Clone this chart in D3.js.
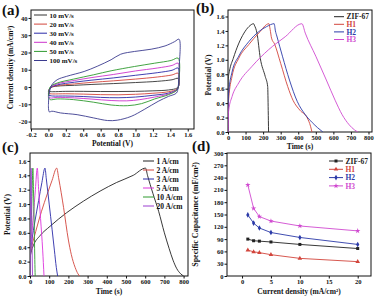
<!DOCTYPE html>
<html><head><meta charset="utf-8">
<script src="https://cdn.jsdelivr.net/npm/d3@7"></script>
<style>
body{margin:0;background:#fff}
svg text{font-family:"Liberation Serif","Times New Roman",serif;font-weight:bold;fill:#111}
</style></head><body>
<svg id="chart" width="376" height="296"></svg>
<script>
// ---------- (a) CV data [potential V, current mA/cm2] ----------
const cvLabels = ["10 mV/s","20 mV/s","30 mV/s","40 mV/s","50 mV/s","100 mV/s"];
const cvColors = ["#333333","#d2453c","#2a2aa8","#cc33cc","#2e9a2e","#3b3b8f"];
const cv10 = [[0,-2.5],[0.03,-0.3],[0.1,0.5],[0.3,1],[0.5,1.5],[0.75,2],[1.0,2.6],[1.25,3.3],[1.42,4.2],[1.49,5],[1.5,1.5],[1.48,-0.5],[1.38,-1.7],[1.2,-2.2],[1.0,-2.5],[0.8,-2.6],[0.6,-2.6],[0.4,-2.5],[0.2,-2.5],[0.05,-2.7],[0,-2.6]];
const cv20 = [[0,-3.5],[0.02,-0.5],[0.1,0.8],[0.3,1.8],[0.5,2.7],[0.75,3.6],[1.0,4.6],[1.25,5.8],[1.42,7],[1.49,8],[1.5,2.5],[1.48,-1],[1.38,-2.7],[1.2,-3.6],[1.0,-4.2],[0.8,-4.5],[0.6,-4.4],[0.4,-4.1],[0.2,-3.9],[0.05,-4],[0,-3.8]];
const cv30 = [[0,-4],[0.02,-0.5],[0.1,1.2],[0.3,2.8],[0.5,4],[0.75,5.3],[1.0,6.8],[1.25,8.3],[1.42,9.7],[1.49,11],[1.5,3],[1.48,-1.2],[1.38,-3.5],[1.2,-4.8],[1.0,-5.8],[0.8,-6.2],[0.6,-6],[0.4,-5.5],[0.2,-5.2],[0.05,-5.2],[0,-4.8]];
const cv40 = [[0,-4.5],[0.02,-0.5],[0.1,1.8],[0.3,3.8],[0.5,5.5],[0.75,7.3],[1.0,9.3],[1.25,11],[1.42,12.5],[1.49,13.8],[1.5,3.5],[1.48,-1.5],[1.38,-4],[1.22,-5.8],[1.05,-7.3],[0.9,-8],[0.72,-7.8],[0.5,-7],[0.3,-6.3],[0.1,-6],[0.02,-6.3],[0,-5.5]];
const cv50 = [[0,-5.4],[0.02,0],[0.1,2.3],[0.29,4.6],[0.52,7.1],[0.72,9.4],[0.99,11.9],[1.22,13.8],[1.41,15.4],[1.49,16.7],[1.5,4.2],[1.48,-1.5],[1.38,-4.4],[1.22,-6.9],[1.07,-9.6],[0.91,-10.8],[0.72,-10.4],[0.52,-8.8],[0.29,-7.3],[0.1,-6.9],[0.02,-7.3],[0,-6]];
const cv100 = [[0,-11],[0.01,-3.5],[0.04,1.3],[0.1,4.2],[0.21,6.2],[0.41,9],[0.56,12],[0.72,15.8],[0.83,19],[0.99,20.6],[1.18,21.9],[1.34,23.8],[1.45,26.3],[1.5,27.7],[1.5,10],[1.49,0],[1.47,-3.5],[1.38,-5.4],[1.26,-8.3],[1.1,-13],[0.95,-17],[0.79,-19.2],[0.68,-19.4],[0.52,-17.9],[0.33,-16],[0.14,-15],[0.04,-14],[0.01,-14.4],[0,-11]];
const cvSeries = [cv10,cv20,cv30,cv40,cv50,cv100];
const aXTicks = [-0.2,0,0.2,0.4,0.6,0.8,1.0,1.2,1.4,1.6];
const aYTicks = [-20,-10,0,10,20,30,40];

// ---------- (b) GCD of samples [time s, potential V] ----------
const bLabels = ["ZIF-67","H1","H2","H3"];
const bColors = ["#222222","#d2453c","#2b3aa8","#d04ad0"];
const gZIF = [[0,0],[0.5,0.72],[8,0.84],[30,1.02],[60,1.22],[91,1.37],[119,1.46],[146,1.5],[150,1.48],[165,1.37],[184,1.02],[212,0.77],[226,0.63],[229,0.3],[231,0]];
const gH1 = [[0,0],[1,0.3],[4,0.46],[23,0.77],[61,1.02],[118,1.21],[175,1.37],[233,1.5],[240,1.42],[248,1.3],[265,1.22],[300,0.95],[340,0.63],[370,0.44],[410,0.3],[450,0.2],[470,0.08],[478,0]];
const gH2 = [[0,0],[1,0.35],[4,0.55],[23,0.83],[61,1.05],[118,1.25],[175,1.39],[220,1.46],[263,1.5],[270,1.4],[278,1.33],[310,1.05],[350,0.72],[395,0.42],[440,0.24],[480,0.13],[510,0.06],[540,0]];
const gH3 = [[0,0],[1,0.2],[4,0.3],[23,0.49],[61,0.68],[137,0.91],[231,1.14],[326,1.32],[421,1.5],[440,1.37],[500,1.05],[560,0.72],[610,0.44],[650,0.24],[690,0.1],[720,0.03],[740,0]];
const bSeries = [gZIF,gH1,gH2,gH3];
const timeTicks = [0,100,200,300,400,500,600,700,800];
const potTicks = [0,0.2,0.4,0.6,0.8,1.0,1.2,1.4,1.6];

// ---------- (c) GCD at current densities ----------
const cLabels = ["1 A/cm","2 A/cm","3 A/cm","5 A/cm","10 A/cm","20 A/cm"];
const cColors = ["#222222","#d2453c","#2a2aa8","#dd33dd","#2e9a2e","#9b3fd0"];
const c1 = [[0,0],[1,0.25],[5,0.32],[17,0.42],[52,0.56],[104,0.69],[191,0.88],[278,1.04],[365,1.18],[451,1.3],[538,1.4],[602,1.5],[612,1.4],[640,1.15],[670,0.9],[700,0.6],[725,0.38],[745,0.22],[765,0.1],[785,0.03],[800,0]];
const c2 = [[0,0],[1,0.3],[10,0.42],[30,0.62],[60,0.9],[90,1.14],[115,1.33],[139,1.5],[150,1.35],[175,0.95],[200,0.5],[215,0.3],[235,0.12],[250,0.03],[258,0]];
const c3 = [[0,0],[1,0.3],[10,0.5],[25,0.75],[45,1.05],[62,1.3],[78,1.5],[85,1.35],[100,1.0],[115,0.65],[127,0.36],[137,0.12],[144,0]];
const c5 = [[0,0],[1,0.3],[8,0.55],[18,0.85],[28,1.2],[38,1.5],[45,1.2],[55,0.8],[66,0.36],[73,0]];
const c10 = [[0,0],[1,0.35],[5,0.65],[10,1.05],[15,1.5],[18,1.2],[22,0.7],[26,0.1],[27,0]];
const c20 = [[0,0],[1,0.5],[3,0.95],[6,1.5],[8,1.0],[11,0.4],[13,0]];
const cSeries = [c1,c2,c3,c5,c10,c20];

// ---------- (d) specific capacitance ----------
const dCurrent = [1,2,3,5,10,20];
const dZIF = [90,86,85,83,77,67];
const dH1 = [63,59,57,52,43,35];
const dH2 = [149,129,117,106,94,77];
const dH3 = [222,165,145,134,122,110];
const dSeries = [dZIF,dH1,dH2,dH3];
const dXTicks = [0,5,10,15,20];
const dYTicks = [0,30,60,90,120,150,180,210,240,270,300];

// ---------- drawing ----------
const svg = d3.select("#chart");
const TICK_FS = 6.5, TITLE_FS = 7.5, LEG_FS = 7.5;

function panel(o){
  const x = d3.scaleLinear().domain(o.xd).range([o.l,o.r]);
  const y = d3.scaleLinear().domain(o.yd).range([o.b,o.t]);
  const g = svg.append("g");
  const gx = g.append("g").attr("transform",`translate(0,${o.b})`)
    .call(d3.axisBottom(x).tickValues(o.xt).tickSize(2.5).tickPadding(1).tickFormat(o.xf));
  const gy = g.append("g").attr("transform",`translate(${o.l},0)`)
    .call(d3.axisLeft(y).tickValues(o.yt).tickSize(2.5).tickPadding(1).tickFormat(o.yf));
  [gx,gy].forEach(a=>{
    a.select(".domain").remove();
    a.selectAll("text").style("font-size",TICK_FS+"px").attr("font-family",null);
    a.selectAll("line").attr("stroke","#111");
  });
  g.append("rect").attr("x",o.l).attr("y",o.t).attr("width",o.r-o.l).attr("height",o.b-o.t)
    .attr("fill","none").attr("stroke","#111").attr("stroke-width",1);
  const clip = "clip"+Math.round(o.l)+"_"+Math.round(o.t);
  svg.append("clipPath").attr("id",clip).append("rect")
    .attr("x",o.l).attr("y",o.t-2).attr("width",o.r-o.l).attr("height",o.b-o.t+2);
  const plot = g.append("g").attr("clip-path",`url(#${clip})`);
  g.append("text").attr("x",(o.l+o.r)/2+(o.xtdx||0)).attr("y",o.xty)
    .attr("text-anchor","middle").style("font-size",TITLE_FS+"px").text(o.xtitle);
  g.append("text").attr("transform",`translate(${o.ytx},${(o.t+o.b)/2+(o.ytdy||0)}) rotate(-90)`)
    .attr("text-anchor","middle").style("font-size",(o.ytfs||TITLE_FS)+"px").text(o.ytitle);
  return {x,y,g,plot};
}

function legend(g,x0,y0,dy,labels,colors,fs,len,symbols,textBlack){
  labels.forEach((lab,i)=>{
    const yy = y0+i*dy;
    g.append("line").attr("x1",x0).attr("x2",x0+len).attr("y1",yy).attr("y2",yy)
      .attr("stroke",colors[i]).attr("stroke-width",1);
    if(symbols){
      g.append("path").attr("d",d3.symbol().type(symbols[i]).size(9)())
        .attr("transform",`translate(${x0+len/2},${yy})`).attr("fill",colors[i]);
    }
    g.append("text").attr("x",x0+len+2.5).attr("y",yy+2.6).style("font-size",fs+"px")
      .style("fill",textBlack?"#111":colors[i]).text(lab);
  });
}

const f1 = d=>d.toFixed(1);
const f0 = d=>String(d);

// (a)
const A = panel({l:31,r:194,t:10,b:129,xd:[-0.2,1.672],yd:[-24.3,44.6],xt:aXTicks,yt:aYTicks,
  xf:f1,yf:f0,xtitle:"Potential (V)",xty:146,ytitle:"Current density (mA/cm²)",ytx:13,ytdy:-2});
const lineA = d3.line().x(d=>A.x(d[0])).y(d=>A.y(d[1])).curve(d3.curveCatmullRom.alpha(0.5));
cvSeries.forEach((s,i)=>A.plot.append("path").attr("d",lineA(s)).attr("fill","none")
  .attr("stroke",cvColors[i]).attr("stroke-width",0.9));
legend(A.g,34,15,9.1,cvLabels,cvColors,7,13,null,true);

// (b)
const B = panel({l:228,r:372,t:10,b:132,xd:[0,820],yd:[0,1.69],xt:timeTicks,yt:potTicks,
  xf:f0,yf:f1,xtitle:"Time (s)",xty:148.5,ytitle:"Potential (V)",ytx:211,ytdy:4});
const lineB = d3.line().x(d=>B.x(d[0])).y(d=>B.y(d[1])).curve(d3.curveMonotoneX);
bSeries.forEach((s,i)=>B.plot.append("path").attr("d",lineB(s)).attr("fill","none")
  .attr("stroke",bColors[i]).attr("stroke-width",0.9));
legend(B.g,334,16.7,7.6,bLabels,bColors,LEG_FS,10);

// (c)
const C = panel({l:30,r:188,t:153,b:276,xd:[0,823],yd:[0,1.71],xt:timeTicks,yt:potTicks,
  xf:f0,yf:f1,xtitle:"Time (s)",xty:293.5,ytitle:"Potential (V)",ytx:10,ytdy:0});
const lineC = d3.line().x(d=>C.x(d[0])).y(d=>C.y(d[1])).curve(d3.curveMonotoneX);
cSeries.forEach((s,i)=>C.plot.append("path").attr("d",lineC(s)).attr("fill","none")
  .attr("stroke",cColors[i]).attr("stroke-width",0.9));
legend(C.g,143,161,9,cLabels,cColors,LEG_FS,11,null,true);

// (d)
const D = panel({l:227,r:371,t:153,b:276,xd:[-2.6,22.3],yd:[0,300],xt:dXTicks,yt:dYTicks,
  xf:f0,yf:f0,xtitle:"Current density (mA/cm²)",xty:293.5,ytitle:"Specific Capacitance (mF/cm²)",ytx:198,ytdy:0,ytfs:8});
const lineD = d3.line().x((d,i)=>D.x(dCurrent[i])).y(d=>D.y(d));
const dSym = [d3.symbolSquare,d3.symbolTriangle,d3.symbolDiamond,d3.symbolStar];
dSeries.forEach((s,i)=>{
  D.plot.append("path").attr("d",lineD(s)).attr("fill","none").attr("stroke",bColors[i]).attr("stroke-width",0.9);
  D.plot.selectAll(null).data(s).join("path")
    .attr("d",d3.symbol().type(dSym[i]).size(9)())
    .attr("transform",(d,j)=>`translate(${D.x(dCurrent[j])},${D.y(d)})`)
    .attr("fill",bColors[i]);
});
legend(D.g,329,161,8.3,bLabels,bColors,LEG_FS,14,dSym);

// panel letters
[["(a)",2,15],["(b)",196,13],["(c)",2,152],["(d)",192,151]].forEach(p=>
  svg.append("text").attr("x",p[1]).attr("y",p[2]).style("font-size","15px").text(p[0]));
</script>
</body></html>
